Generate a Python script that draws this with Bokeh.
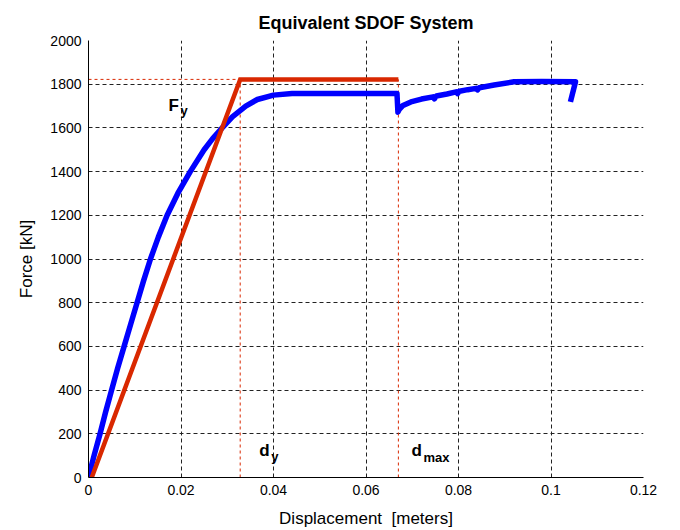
from bokeh.plotting import figure
from bokeh.models import FixedTicker, PrintfTickFormatter, Label, Range1d
from bokeh.embed import file_html
from bokeh.resources import INLINE

# ---- data ----
disp_m = [0, 0.0012, 0.0025, 0.0037, 0.0050, 0.0063, 0.0077, 0.0091, 0.0105, 0.0119,
          0.0134, 0.0151, 0.0170, 0.0193, 0.0220, 0.0250, 0.0268, 0.0289, 0.0311, 0.0340,
          0.0365, 0.0400, 0.0440, 0.0500, 0.0600, 0.0667, 0.0669, 0.0672, 0.0680, 0.0697,
          0.0720, 0.0745, 0.0748, 0.0752, 0.0775, 0.0795, 0.0798, 0.0802, 0.0820, 0.0838,
          0.0841, 0.0845, 0.0877, 0.0920, 0.0980, 0.1053, 0.1042]
force_kn = [0, 100, 200, 300, 400, 500, 600, 700, 800, 900,
            1000, 1100, 1200, 1300, 1400, 1500, 1550, 1600, 1650, 1700,
            1730, 1750, 1757, 1757, 1757, 1757, 1672, 1685, 1703, 1719,
            1732, 1742, 1733, 1746, 1755, 1765, 1757, 1768, 1775, 1781,
            1774, 1784, 1796, 1811, 1812, 1811, 1719]

d_start = 0.0007
d_y = 0.0328
d_max = 0.0670
F_y = 1822
bilin_x = [d_start, d_y, d_max]
bilin_y = [0, F_y, F_y]

x_ticks = [0, 0.02, 0.04, 0.06, 0.08, 0.1, 0.12]
y_ticks = [0, 200, 400, 600, 800, 1000, 1200, 1400, 1600, 1800, 2000]

FONT = "Liberation Sans"
RED = "#d92800"
BLUE = "#0000ff"

p = figure(width=680, height=530, output_backend="svg", toolbar_location=None,
           x_range=Range1d(0, 0.12), y_range=Range1d(0, 2000),
           min_border_left=88, min_border_right=37, min_border_top=40, min_border_bottom=53,
           title="Equivalent SDOF System")
p.outline_line_color = None
p.background_fill_color = "white"
p.border_fill_color = "white"

p.title.text_font = FONT
p.title.text_font_size = "18px"
p.title.text_font_style = "bold"
p.title.align = "center"
p.title.text_color = "black"
p.title.standoff = 15

for ax in (p.xaxis[0], p.yaxis[0]):
    ax.axis_line_color = "black"
    ax.axis_line_width = 1
    ax.major_tick_in = 0
    ax.major_tick_out = 0
    ax.minor_tick_in = 0
    ax.minor_tick_out = 0
    ax.major_label_text_font = FONT
    ax.major_label_text_font_size = "14px"
    ax.major_label_text_color = "black"
    ax.axis_label_text_font = FONT
    ax.axis_label_text_font_size = "17px"
    ax.axis_label_text_font_style = "normal"
    ax.axis_label_text_color = "black"

p.xaxis.ticker = FixedTicker(ticks=x_ticks)
p.yaxis.ticker = FixedTicker(ticks=y_ticks)
p.xaxis.formatter = PrintfTickFormatter(format="%g")
p.yaxis.formatter = PrintfTickFormatter(format="%g")
p.xaxis.axis_label = "Displacement\u00a0 [meters]"
p.yaxis.axis_label = "Force [kN]"
p.xaxis.major_label_standoff = 7
p.xaxis.axis_label_standoff = 11
p.yaxis.major_label_standoff = 7
p.yaxis.axis_label_standoff = 11

for g in (p.xgrid[0], p.ygrid[0]):
    g.grid_line_color = "#222222"
    g.grid_line_dash = "4 3"
    g.grid_line_width = 1

# red dashed guides
p.line([0, d_y], [F_y, F_y], line_color=RED, line_width=1, line_dash="3 3")
p.line([d_y, d_y], [0, F_y], line_color=RED, line_width=1, line_dash="3 3")
p.line([d_max, d_max], [0, F_y], line_color=RED, line_width=1, line_dash="3 3")

# curves
p.line(disp_m, force_kn, line_color=BLUE, line_width=5.5, line_join="round")
p.line(bilin_x, bilin_y, line_color=RED, line_width=4.5, line_join="miter")

def lab(x, y, text, xo, yo, size):
    p.add_layout(Label(x=x, y=y, text=text, x_offset=xo, y_offset=yo,
                       text_font=FONT, text_font_size=size, text_font_style="bold",
                       text_color="black", text_baseline="alphabetic", text_align="left"))

lab(0, F_y, "F", 80, -26, "17px")
lab(0, F_y, "y", 92, -31, "13px")
lab(d_y, 0, "d", 19, 27, "17px")
lab(d_y, 0, "y", 31, 21, "13px")
lab(d_max, 0, "d", 13, 27, "17px")
lab(d_max, 0, "max", 25, 20, "13px")

open("out.html", "w").write(file_html(p, INLINE))
